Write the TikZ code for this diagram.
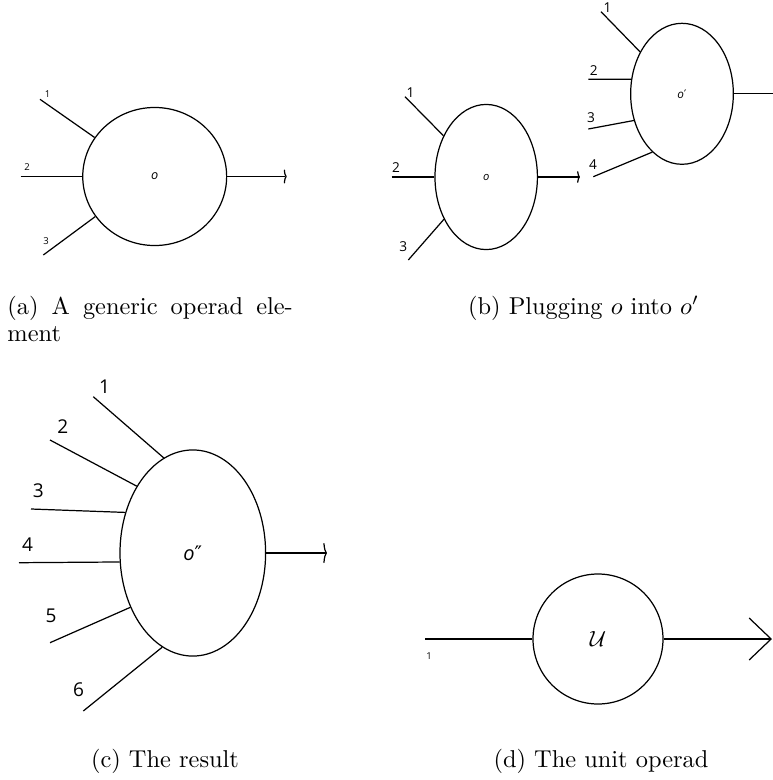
\documentclass[tikz,border=0pt]{standalone}
\usepackage{fontspec}
\newfontfamily\wirefont{Open Sans}
\newfontfamily\primefont{DejaVu Sans}
\usetikzlibrary{shapes.geometric,arrows.meta}

\begin{document}
\begin{tikzpicture}[x=0.41pt, y=-0.41pt,
    wire/.style={line width=0.5pt},
    blob/.style={draw, line width=0.5pt, ellipse, inner sep=0pt},
    hooktip/.style={-{To[length=1.2pt,width=#1]}},
    lbltiny/.style={font=\wirefont\fontsize{3.9}{4}\selectfont, inner sep=0pt},
    lblsmall/.style={font=\wirefont\fontsize{5.6}{6}\selectfont, inner sep=0pt},
    lblbig/.style={font=\wirefont\fontsize{7.8}{8}\selectfont, inner sep=0pt},
    capt/.style={font=\fontsize{10}{11.1}\selectfont, inner sep=0pt}]
    \useasboundingbox (0,0) rectangle (773,780);

    % (a) generic element
    \node[blob, minimum width=59pt, minimum height=56.6pt,
          font=\wirefont\itshape\fontsize{5.2}{5}\selectfont] (opa) at (154.7,176.5) {o};
    \coordinate (a1) at (40,99.3);
    \coordinate (a2) at (20.7,176.5);
    \coordinate (a3) at (43.3,255);
    \coordinate (aout) at (286.7,176.5);
    \draw[wire] (a1) -- (opa.147.3);
    \draw[wire] (a2) -- (opa.180);
    \draw[wire] (a3) -- (opa.214.3);
    \draw[wire, hooktip=5.7pt] (opa.east) -- (aout);
    \node[lbltiny] (la1) at (47.5,94) {1};
    \node[lbltiny] (la2) at (27,167) {2};
    \node[lbltiny] (la3) at (46,241.5) {3};

    % (b) plugging o into o'
    \node[blob, minimum width=42pt, minimum height=59.5pt,
          font=\wirefont\itshape\fontsize{4.6}{5}\selectfont] (opb) at (486.2,177) {o};
    \coordinate (b1) at (405,96.7);
    \coordinate (b2) at (391.7,177);
    \coordinate (b3) at (408.3,260);
    \coordinate (bout) at (580,177);
    \draw[wire] (b1) -- (opb.136.4);
    \draw[wire] (b2) -- (opb.180);
    \draw[wire] (b3) -- (opb.225.2);
    \draw[wire, hooktip=4.8pt] (opb.east) -- (bout);
    \node[lblsmall] (lb1) at (410.5,92.5) {1};
    \node[lblsmall] (lb2) at (396,168) {2};
    \node[lblsmall] (lb3) at (403.3,247) {3};

    \node[blob, minimum width=42.1pt, minimum height=57.8pt,
          font=\wirefont\itshape\fontsize{4.8}{5}\selectfont] (opp) at (682,93.8) {o{\primefont\upshape′}};
    \coordinate (p1) at (601,11.7);
    \coordinate (p2) at (588.3,79.3);
    \coordinate (p3) at (588.3,129);
    \coordinate (p4) at (593.3,176.7);
    \coordinate (pout) at (775,93.8);
    \draw[wire] (p1) -- (opp.135.4);
    \draw[wire] (p2) -- (opp.164.2);
    \draw[wire] (p3) -- (opp.209.8);
    \draw[wire] (p4) -- (opp.243.2);
    \draw[wire] (opp.east) -- (pout);
    \node[lblsmall] (lp1) at (607.5,7.7) {1};
    \node[lblsmall] (lp2) at (593.7,70.5) {2};
    \node[lblsmall] (lp3) at (591,118) {3};
    \node[lblsmall] (lp4) at (593,164.5) {4};

    % (c) the result
    \node[blob, minimum width=59.7pt, minimum height=84.5pt,
          font=\wirefont\itshape\fontsize{8.2}{9}\selectfont] (opc) at (192.8,553) {o{\primefont\upshape″}};
    \coordinate (c1) at (93.3,396.7);
    \coordinate (c2) at (50,440);
    \coordinate (c3) at (31,509);
    \coordinate (c4) at (19,562.7);
    \coordinate (c5) at (50,642.7);
    \coordinate (c6) at (83.3,711);
    \coordinate (cout) at (327,553);
    \draw[wire] (c1) -- (opc.107.6);
    \draw[wire] (c2) -- (opc.130.2);
    \draw[wire] (c3) -- (opc.149.7);
    \draw[wire] (c4) -- (opc.187.6);
    \draw[wire] (c5) -- (opc.221.4);
    \draw[wire] (c6) -- (opc.252);
    \draw[wire, -{To[length=1.5pt,width=8.2pt]}] (opc.east) -- (cout);
    \node[lblbig] (lc1) at (104.5,387) {1};
    \node[lblbig] (lc2) at (62.7,426.7) {2};
    \node[lblbig] (lc3) at (38.3,490.7) {3};
    \node[lblbig] (lc4) at (27.5,545) {4};
    \node[lblbig] (lc5) at (51,616) {5};
    \node[lblbig] (lc6) at (78.5,690) {6};

    % (d) the unit
    \node[blob, circle, minimum size=53.3pt, font=\fontsize{9}{9}\selectfont] (opd) at (598,639) {$\mathcal{U}$};
    \coordinate (d1) at (425,639);
    \coordinate (dout) at (772,639);
    \draw[wire] (d1) -- (opd.west);
    \draw[wire, -{Straight Barb[length=9pt,width=17.2pt]}] (opd.east) -- (dout);
    \node[lbltiny] (ld1) at (429,656.3) {1};

    % captions
    \node[capt, anchor=north west, text width=117pt, align=justify] (capa) at (7,296)
        {(a) A generic operad ele-\linebreak ment};
    \node[capt, anchor=base] (capb) at (583.5,314) {(b) Plugging $o$ into $o'$};
    \node[capt, anchor=base] (capc) at (165,767) {(c) The result};
    \node[capt, anchor=base] (capd) at (601,767) {(d) The unit operad};
\end{tikzpicture}
\end{document}
